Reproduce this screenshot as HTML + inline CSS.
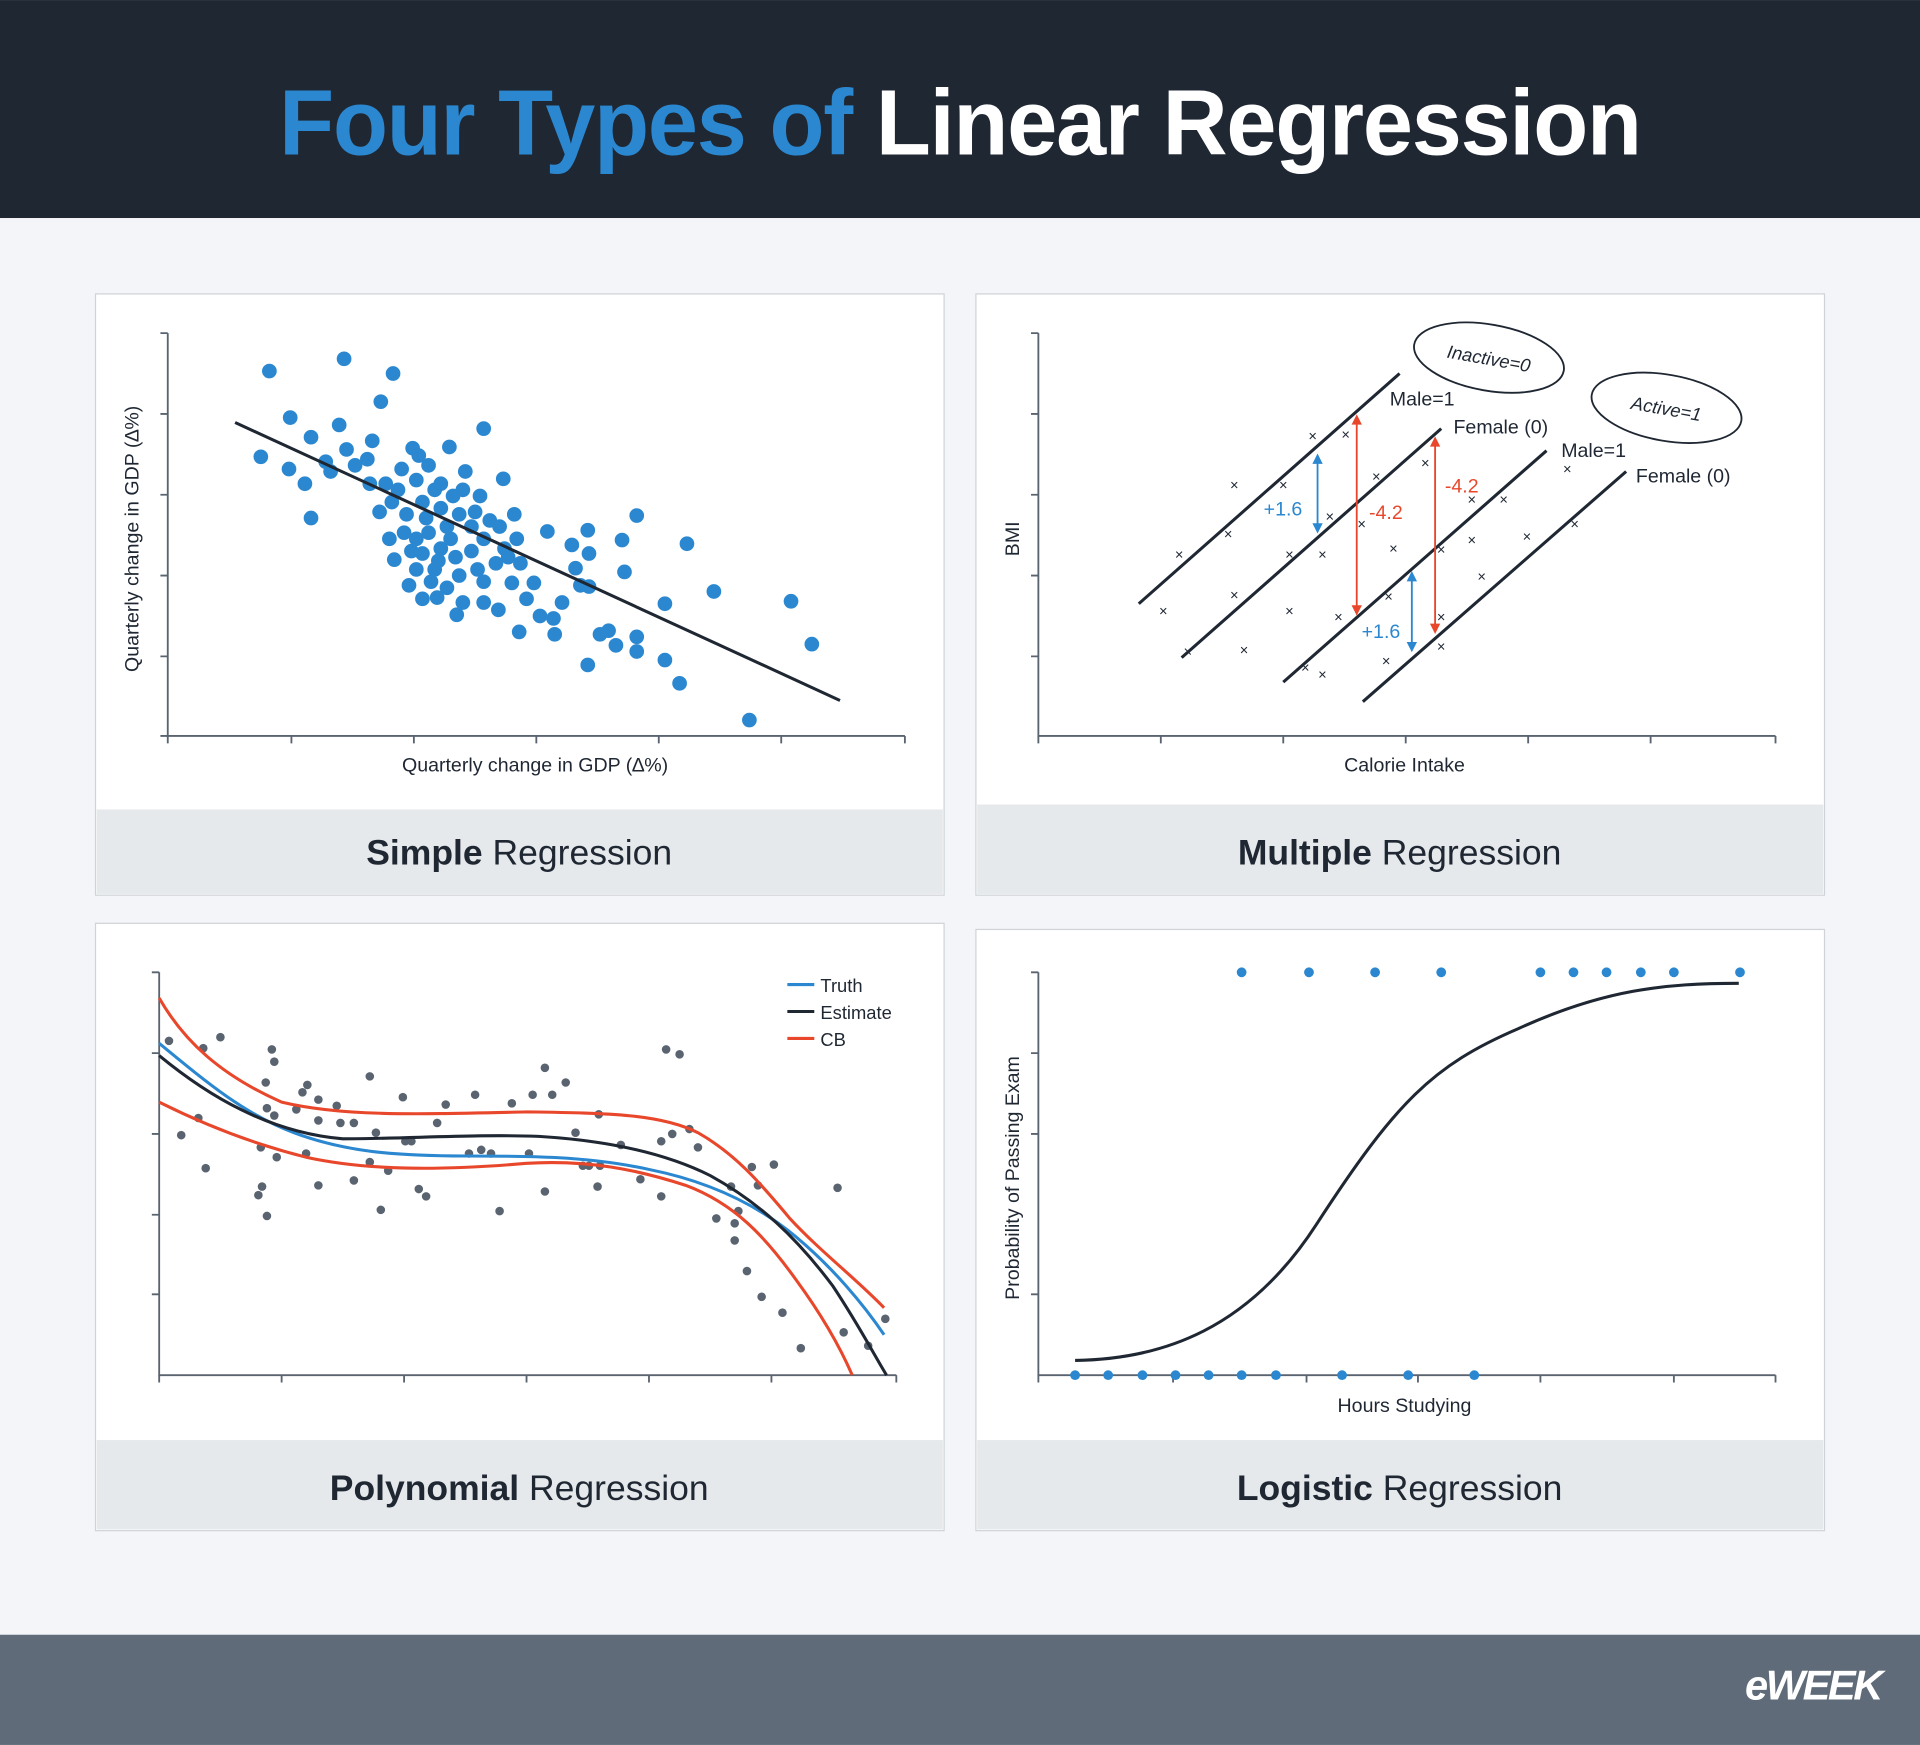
<!DOCTYPE html>
<html><head><meta charset="utf-8"><style>
html,body{margin:0;padding:0;background:#f4f5f9}
svg{display:block}
text{font-family:"Liberation Sans",sans-serif}
</style></head><body>
<svg width="1920" height="1745" viewBox="0 0 1568 1425" xmlns="http://www.w3.org/2000/svg">
<rect width="1568" height="1425" fill="#f4f5f9"/>
<rect width="1568" height="178" fill="#1f2733"/>
<text x="784" y="126" text-anchor="middle" font-size="76" font-weight="bold" textLength="1112" lengthAdjust="spacingAndGlyphs" letter-spacing="-1"><tspan fill="#2b88d0">Four Types of </tspan><tspan fill="#ffffff">Linear Regression</tspan></text>
<rect y="1335" width="1568" height="90" fill="#5f6b78"/>
<text x="1536" y="1388" text-anchor="end" font-size="34" font-weight="bold" font-style="italic" fill="#fff" letter-spacing="-2">eWEEK</text>

<!-- panels -->
<g stroke="#cfd3d7" stroke-width="1">
<rect x="78" y="240" width="693" height="491" fill="#fff"/>
<rect x="797" y="240" width="693" height="491" fill="#fff"/>
<rect x="78" y="754" width="693" height="496" fill="#fff"/>
<rect x="797" y="759" width="693" height="491" fill="#fff"/>
</g>
<g fill="#e6e9eb">
<rect x="79" y="661" width="691" height="69"/>
<rect x="798" y="657" width="691" height="73"/>
<rect x="79" y="1176" width="691" height="73"/>
<rect x="798" y="1176" width="691" height="73"/>
</g>
<g font-size="29" fill="#1f2733" text-anchor="middle">
<text x="424" y="706"><tspan font-weight="bold">Simple</tspan> Regression</text>
<text x="1143" y="706"><tspan font-weight="bold">Multiple</tspan> Regression</text>
<text x="424" y="1225"><tspan font-weight="bold">Polynomial</tspan> Regression</text>
<text x="1143" y="1225"><tspan font-weight="bold">Logistic</tspan> Regression</text>
</g>

<!-- Panel 1 -->
<g stroke="#5a6470" stroke-width="1.5" fill="none">
<path d="M137 272V601H739"/>
<path d="M131 272H137M131 338H137M131 404H137M131 470H137M131 536H137M131 601H137"/>
<path d="M137 601V607M238 601V607M338 601V607M438 601V607M538 601V607M638 601V607M739 601V607"/>
</g>
<text x="437" y="630" text-anchor="middle" font-size="16" fill="#1f2733">Quarterly change in GDP (∆%)</text>
<text transform="translate(113,440) rotate(-90)" text-anchor="middle" font-size="16" fill="#1f2733">Quarterly change in GDP (∆%)</text>
<g fill="#2b88d0">
<g id="pts1">
<circle cx="220" cy="303" r="6"/><circle cx="281" cy="293" r="6"/><circle cx="321" cy="305" r="6"/><circle cx="311" cy="328" r="6"/><circle cx="237" cy="341" r="6"/><circle cx="277" cy="347" r="6"/><circle cx="213" cy="373" r="6"/><circle cx="254" cy="357" r="6"/><circle cx="236" cy="383" r="6"/><circle cx="249" cy="395" r="6"/><circle cx="254" cy="423" r="6"/><circle cx="304" cy="360" r="6"/><circle cx="266" cy="377" r="6"/><circle cx="283" cy="367" r="6"/><circle cx="270" cy="385" r="6"/><circle cx="290" cy="380" r="6"/><circle cx="300" cy="375" r="6"/><circle cx="395" cy="350" r="6"/><circle cx="367" cy="365" r="6"/><circle cx="411" cy="391" r="6"/><circle cx="322" cy="457" r="6"/><circle cx="345" cy="489" r="6"/><circle cx="357" cy="488" r="6"/><circle cx="378" cy="492" r="6"/><circle cx="373" cy="502" r="6"/><circle cx="395" cy="492" r="6"/><circle cx="407" cy="498" r="6"/><circle cx="424" cy="516" r="6"/><circle cx="441" cy="503" r="6"/><circle cx="452" cy="505" r="6"/><circle cx="453" cy="518" r="6"/><circle cx="459" cy="492" r="6"/><circle cx="447" cy="434" r="6"/><circle cx="467" cy="445" r="6"/><circle cx="480" cy="433" r="6"/><circle cx="481" cy="452" r="6"/><circle cx="470" cy="464" r="6"/><circle cx="481" cy="479" r="6"/><circle cx="490" cy="518" r="6"/><circle cx="497" cy="515" r="6"/><circle cx="503" cy="527" r="6"/><circle cx="480" cy="543" r="6"/><circle cx="520" cy="520" r="6"/><circle cx="520" cy="532" r="6"/><circle cx="543" cy="539" r="6"/><circle cx="555" cy="558" r="6"/><circle cx="612" cy="588" r="6"/><circle cx="520" cy="421" r="6"/><circle cx="508" cy="441" r="6"/><circle cx="510" cy="467" r="6"/><circle cx="543" cy="493" r="6"/><circle cx="583" cy="483" r="6"/><circle cx="646" cy="491" r="6"/><circle cx="663" cy="526" r="6"/><circle cx="561" cy="444" r="6"/><circle cx="474" cy="478" r="6"/><circle cx="436" cy="476" r="6"/><circle cx="418" cy="476" r="6"/><circle cx="430" cy="489" r="6"/><circle cx="425" cy="460" r="6"/><circle cx="412" cy="448" r="6"/>
<circle cx="328" cy="383" r="6"/><circle cx="337" cy="366" r="6"/><circle cx="340" cy="392" r="6"/><circle cx="350" cy="380" r="6"/><circle cx="355" cy="400" r="6"/><circle cx="345" cy="410" r="6"/><circle cx="332" cy="420" r="6"/><circle cx="320" cy="410" r="6"/><circle cx="315" cy="395" r="6"/><circle cx="360" cy="415" r="6"/><circle cx="370" cy="405" r="6"/><circle cx="380" cy="385" r="6"/><circle cx="375" cy="420" r="6"/><circle cx="385" cy="430" r="6"/><circle cx="365" cy="430" r="6"/><circle cx="350" cy="435" r="6"/><circle cx="340" cy="440" r="6"/><circle cx="330" cy="435" r="6"/><circle cx="345" cy="452" r="6"/><circle cx="360" cy="448" r="6"/><circle cx="372" cy="455" r="6"/><circle cx="385" cy="450" r="6"/><circle cx="395" cy="440" r="6"/><circle cx="400" cy="425" r="6"/><circle cx="405" cy="460" r="6"/><circle cx="390" cy="465" r="6"/><circle cx="375" cy="470" r="6"/><circle cx="355" cy="465" r="6"/><circle cx="340" cy="465" r="6"/><circle cx="352" cy="475" r="6"/><circle cx="365" cy="480" r="6"/><circle cx="395" cy="475" r="6"/><circle cx="420" cy="420" r="6"/><circle cx="422" cy="440" r="6"/><circle cx="392" cy="405" r="6"/><circle cx="360" cy="395" r="6"/><circle cx="325" cy="400" r="6"/><circle cx="310" cy="418" r="6"/><circle cx="336" cy="450" r="6"/><circle cx="368" cy="440" r="6"/><circle cx="378" cy="400" r="6"/><circle cx="348" cy="423" r="6"/><circle cx="358" cy="458" r="6"/><circle cx="408" cy="430" r="6"/><circle cx="318" cy="440" r="6"/><circle cx="302" cy="395" r="6"/><circle cx="342" cy="372" r="6"/><circle cx="388" cy="418" r="6"/><circle cx="415" cy="455" r="6"/><circle cx="334" cy="478" r="6"/>
</g></g>
<line x1="192" y1="345" x2="686" y2="572" stroke="#1f2733" stroke-width="2.5"/>

<!-- Panel 2 -->
<g stroke="#5a6470" stroke-width="1.5" fill="none">
<path d="M848 272V601H1450"/>
<path d="M842 272H848M842 338H848M842 404H848M842 470H848M842 536H848"/>
<path d="M848 601V607M948 601V607M1048 601V607M1148 601V607M1248 601V607M1348 601V607M1450 601V607"/>
</g>
<text x="1147" y="630" text-anchor="middle" font-size="16" fill="#1f2733">Calorie Intake</text>
<text transform="translate(832,440) rotate(-90)" text-anchor="middle" font-size="16" fill="#1f2733">BMI</text>
<g stroke="#1f2733" stroke-width="2.5">
<line x1="930" y1="493" x2="1143" y2="305"/><line x1="965" y1="537" x2="1177" y2="350"/>
<line x1="1048" y1="557" x2="1263" y2="368"/><line x1="1113" y1="573" x2="1328" y2="385"/>
</g>
<g font-size="12" fill="#1f2733" text-anchor="middle">
<text x="963" y="457">×</text><text x="950" y="503">×</text><text x="970" y="536">×</text><text x="1008" y="400">×</text><text x="1003" y="440">×</text><text x="1008" y="490">×</text><text x="1016" y="535">×</text><text x="1048" y="400">×</text><text x="1072" y="360">×</text><text x="1099" y="359">×</text><text x="1053" y="457">×</text><text x="1053" y="503">×</text><text x="1080" y="457">×</text><text x="1086" y="426">×</text><text x="1093" y="508">×</text><text x="1066" y="549">×</text><text x="1080" y="555">×</text><text x="1112" y="432">×</text><text x="1124" y="393">×</text><text x="1138" y="452">×</text><text x="1164" y="382">×</text><text x="1134" y="491">×</text><text x="1132" y="544">×</text><text x="1177" y="453">×</text><text x="1177" y="508">×</text><text x="1177" y="532">×</text><text x="1202" y="412">×</text><text x="1202" y="445">×</text><text x="1210" y="475">×</text><text x="1228" y="412">×</text><text x="1247" y="442">×</text><text x="1280" y="387">×</text><text x="1286" y="432">×</text>
</g>
<g font-size="16" fill="#1f2733">
<text x="1135" y="331">Male=1</text><text x="1187" y="354">Female (0)</text>
<text x="1275" y="373">Male=1</text><text x="1336" y="394">Female (0)</text>
</g>
<g fill="#fff" stroke="#1f2733" stroke-width="1.5">
<ellipse cx="1216" cy="292" rx="62" ry="27" transform="rotate(10 1216 292)"/>
<ellipse cx="1361" cy="333" rx="62" ry="27" transform="rotate(10 1361 333)"/>
</g>
<g font-size="15" fill="#1f2733" font-style="italic" text-anchor="middle">
<text x="1216" y="298" transform="rotate(10 1216 292)">Inactive=0</text>
<text x="1361" y="339" transform="rotate(10 1361 333)">Active=1</text>
</g>
<g stroke-width="1.5">
<g stroke="#2b88d0" fill="#2b88d0"><line x1="1076" y1="376" x2="1076" y2="430"/><path d="M1073 378l3-6 3 6zM1073 428l3 6 3-6z"/>
<line x1="1153" y1="472" x2="1153" y2="527"/><path d="M1150 474l3-6 3 6zM1150 525l3 6 3-6z"/></g>
<g stroke="#e8472b" fill="#e8472b"><line x1="1108" y1="344" x2="1108" y2="497"/><path d="M1105 346l3-6 3 6zM1105 495l3 6 3-6z"/>
<line x1="1172" y1="362" x2="1172" y2="512"/><path d="M1169 364l3-6 3 6zM1169 510l3 6 3-6z"/></g>
</g>
<g font-size="16"><text x="1032" y="421" fill="#2b88d0">+1.6</text><text x="1112" y="521" fill="#2b88d0">+1.6</text>
<text x="1118" y="424" fill="#e8472b">-4.2</text><text x="1180" y="402" fill="#e8472b">-4.2</text></g>

<!-- Panel 3 -->
<g stroke="#5a6470" stroke-width="1.5" fill="none">
<path d="M130 794V1123H732"/>
<path d="M124 794H130M124 860H130M124 926H130M124 992H130M124 1057H130"/>
<path d="M130 1123V1129M230 1123V1129M330 1123V1129M430 1123V1129M530 1123V1129M630 1123V1129M732 1123V1129"/>
</g>
<g fill="#5a6470">
<circle cx="138" cy="850" r="3.5"/><circle cx="148" cy="927" r="3.5"/><circle cx="162" cy="913" r="3.5"/><circle cx="166" cy="856" r="3.5"/><circle cx="168" cy="954" r="3.5"/><circle cx="180" cy="847" r="3.5"/><circle cx="213" cy="937" r="3.5"/><circle cx="211" cy="976" r="3.5"/><circle cx="214" cy="969" r="3.5"/><circle cx="218" cy="993" r="3.5"/><circle cx="217" cy="884" r="3.5"/><circle cx="222" cy="857" r="3.5"/><circle cx="224" cy="867" r="3.5"/><circle cx="218" cy="905" r="3.5"/><circle cx="224" cy="911" r="3.5"/><circle cx="226" cy="945" r="3.5"/><circle cx="242" cy="906" r="3.5"/><circle cx="247" cy="892" r="3.5"/><circle cx="251" cy="886" r="3.5"/><circle cx="250" cy="942" r="3.5"/><circle cx="260" cy="898" r="3.5"/><circle cx="260" cy="915" r="3.5"/><circle cx="260" cy="968" r="3.5"/><circle cx="275" cy="903" r="3.5"/><circle cx="278" cy="917" r="3.5"/><circle cx="289" cy="917" r="3.5"/><circle cx="289" cy="964" r="3.5"/><circle cx="302" cy="879" r="3.5"/><circle cx="302" cy="949" r="3.5"/><circle cx="307" cy="925" r="3.5"/><circle cx="311" cy="988" r="3.5"/><circle cx="317" cy="956" r="3.5"/><circle cx="329" cy="896" r="3.5"/><circle cx="331" cy="932" r="3.5"/><circle cx="336" cy="932" r="3.5"/><circle cx="342" cy="971" r="3.5"/><circle cx="348" cy="977" r="3.5"/><circle cx="357" cy="917" r="3.5"/><circle cx="364" cy="902" r="3.5"/><circle cx="383" cy="942" r="3.5"/><circle cx="388" cy="894" r="3.5"/><circle cx="393" cy="939" r="3.5"/><circle cx="401" cy="942" r="3.5"/><circle cx="408" cy="989" r="3.5"/><circle cx="418" cy="901" r="3.5"/><circle cx="432" cy="942" r="3.5"/><circle cx="435" cy="894" r="3.5"/><circle cx="445" cy="872" r="3.5"/><circle cx="445" cy="973" r="3.5"/><circle cx="451" cy="894" r="3.5"/><circle cx="462" cy="884" r="3.5"/><circle cx="470" cy="925" r="3.5"/><circle cx="476" cy="952" r="3.5"/><circle cx="481" cy="952" r="3.5"/><circle cx="489" cy="910" r="3.5"/><circle cx="490" cy="952" r="3.5"/><circle cx="488" cy="969" r="3.5"/><circle cx="507" cy="935" r="3.5"/><circle cx="523" cy="963" r="3.5"/><circle cx="540" cy="977" r="3.5"/><circle cx="540" cy="932" r="3.5"/><circle cx="544" cy="857" r="3.5"/><circle cx="549" cy="926" r="3.5"/><circle cx="555" cy="861" r="3.5"/><circle cx="563" cy="922" r="3.5"/><circle cx="570" cy="937" r="3.5"/><circle cx="585" cy="995" r="3.5"/><circle cx="597" cy="969" r="3.5"/><circle cx="600" cy="999" r="3.5"/><circle cx="600" cy="1013" r="3.5"/><circle cx="603" cy="989" r="3.5"/><circle cx="610" cy="1038" r="3.5"/><circle cx="614" cy="953" r="3.5"/><circle cx="619" cy="968" r="3.5"/><circle cx="622" cy="1059" r="3.5"/><circle cx="632" cy="951" r="3.5"/><circle cx="639" cy="1072" r="3.5"/><circle cx="654" cy="1101" r="3.5"/><circle cx="684" cy="970" r="3.5"/><circle cx="689" cy="1088" r="3.5"/><circle cx="709" cy="1099" r="3.5"/><circle cx="723" cy="1077" r="3.5"/>
</g>
<g fill="none" stroke-width="2.5">
<path stroke="#2b88d0" d="M130 852 C170 885,200 910,240 925 C280 940,320 944,380 944 C430 944,480 944,530 955 C580 965,620 985,650 1010 C680 1035,705 1065,722 1090"/>
<path stroke="#1f2733" d="M130 862 C170 895,220 925,280 930 C330 930,390 926,440 928 C490 931,540 940,580 960 C620 982,650 1010,680 1050 C700 1080,712 1103,724 1123"/>
<path stroke="#e8472b" d="M130 815 C150 850,180 878,230 900 C280 912,340 910,430 908 C500 909,540 910,570 925 C600 942,620 965,645 995 C670 1022,700 1045,722 1068"/>
<path stroke="#e8472b" d="M130 900 C170 920,210 935,250 945 C300 956,360 956,430 950 C480 947,520 955,560 968 C600 983,625 1010,650 1045 C672 1075,686 1100,696 1123"/>
</g>
<g stroke-width="2.5"><line x1="643" y1="804" x2="665" y2="804" stroke="#2b88d0"/><line x1="643" y1="826" x2="665" y2="826" stroke="#1f2733"/><line x1="643" y1="848" x2="665" y2="848" stroke="#e8472b"/></g>
<g font-size="15" fill="#1f2733"><text x="670" y="810">Truth</text><text x="670" y="832">Estimate</text><text x="670" y="854">CB</text></g>

<!-- Panel 4 -->
<g stroke="#5a6470" stroke-width="1.5" fill="none">
<path d="M848 794V1123H1450"/>
<path d="M842 794H848M842 860H848M842 926H848M842 1057H848"/>
<path d="M848 1123V1129M958 1123V1129M1067 1123V1129M1158 1123V1129M1258 1123V1129M1367 1123V1129M1450 1123V1129"/>
</g>
<text x="1147" y="1153" text-anchor="middle" font-size="16" fill="#1f2733">Hours Studying</text>
<text transform="translate(832,962) rotate(-90)" text-anchor="middle" font-size="16" fill="#1f2733">Probability of Passing Exam</text>
<path d="M878 1111 C950 1110,1020 1085,1075 1000 C1140 900,1170 870,1240 840 C1310 808,1360 803,1420 803" fill="none" stroke="#1f2733" stroke-width="2.5"/>
<g fill="#2b88d0">
<circle cx="1014" cy="794" r="4"/><circle cx="1069" cy="794" r="4"/><circle cx="1123" cy="794" r="4"/><circle cx="1177" cy="794" r="4"/><circle cx="1258" cy="794" r="4"/><circle cx="1285" cy="794" r="4"/><circle cx="1312" cy="794" r="4"/><circle cx="1340" cy="794" r="4"/><circle cx="1367" cy="794" r="4"/><circle cx="1421" cy="794" r="4"/>
<circle cx="878" cy="1123" r="4"/><circle cx="905" cy="1123" r="4"/><circle cx="933" cy="1123" r="4"/><circle cx="960" cy="1123" r="4"/><circle cx="987" cy="1123" r="4"/><circle cx="1014" cy="1123" r="4"/><circle cx="1042" cy="1123" r="4"/><circle cx="1096" cy="1123" r="4"/><circle cx="1150" cy="1123" r="4"/><circle cx="1204" cy="1123" r="4"/>
</g>
</svg>
</body></html>
